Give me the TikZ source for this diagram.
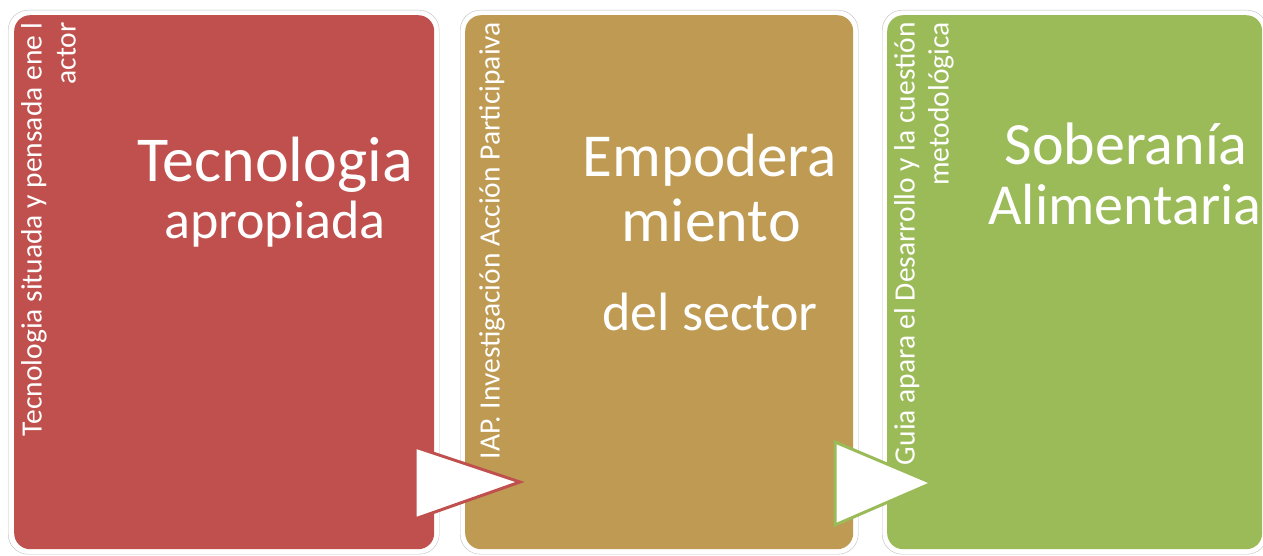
\documentclass[tikz,border=0pt]{standalone}
\usepackage{fontspec}
\setmainfont{Carlito}
\usetikzlibrary{positioning}

\definecolor{boxred}{HTML}{C0504D}
\definecolor{boxtan}{HTML}{BE9A53}
\definecolor{boxgreen}{HTML}{9BBB59}
\definecolor{framegray}{HTML}{BFBFBF}

\tikzset{
    outerframe/.style={
        rectangle, anchor=north west, rounded corners=20pt,
        minimum height=544pt, inner sep=0pt,
        draw=framegray, thin, fill=white,
    },
    innerpanel/.style={
        rectangle, anchor=north west, rounded corners=16pt,
        minimum height=534pt, inner sep=0pt,
        draw=none, fill=#1,
    },
    sidetext/.style={
        rotate=90, anchor=north east, inner sep=0pt,
        align=right, text=white,
        font=\fontsize{29.5}{34}\selectfont,
    },
    bigtext/.style={
        anchor=base, inner sep=0pt, text=white,
        font=\fontsize{#1}{#1}\selectfont,
    },
    arrowtri/.style={
        draw=#1, line width=3pt, line join=miter, fill=white,
    },
}

\begin{document}
\begin{tikzpicture}[x=1pt,y=-1pt]
    \clip (0,0) rectangle (1263,556);

    % frames and panels
    \node (frameA) at (8,10) [outerframe, minimum width=431pt] {};
    \node (panelA) at (14,15) [innerpanel=boxred, minimum width=420pt] {};
    \node (frameB) at (460,10) [outerframe, minimum width=398pt] {};
    \node (panelB) at (465,15) [innerpanel=boxtan, minimum width=388pt] {};
    \node (frameC) at (882,10) [outerframe, minimum width=385pt] {};
    \node (panelC) at (887,15) [innerpanel=boxgreen, minimum width=375pt] {};

    % side labels
    \node (sideA) at (21,22) [sidetext] {Tecnologia situada y pensada ene l\\actor};
    \node (sideB) at (479,22) [sidetext] {IAP. Investigación Acción Participaiva};
    \node (sideC) at (894,22) [sidetext] {Guia apara el Desarrollo y la cuestión\\metodológica};

    % titles
    \node (titleA) at (275,182) [bigtext=64] {Tecnologia};
    \node (subA) at (275,238) [bigtext=54] {apropiada};
    \node (titleB) at (710,177) [bigtext=61] {Empodera};
    \node (midB) at (711,241) [bigtext=62] {miento};
    \node (subB) at (710,330) [bigtext=54] {del sector};
    \node (titleC) at (1126,165) [bigtext=60] {Soberanía};
    \node (subC) at (988,224) [bigtext=58, anchor=base west] {Alimentaria};

    % arrows between panels
    \coordinate (tipA) at (520,482);
    \coordinate (tipB) at (932,483);
    \draw[arrowtri=boxred] (415,447) -- (tipA) -- (415,519) -- cycle;
    \draw[arrowtri=boxgreen] (835,442) -- (tipB) -- (835,525) -- cycle;
\end{tikzpicture}
\end{document}
